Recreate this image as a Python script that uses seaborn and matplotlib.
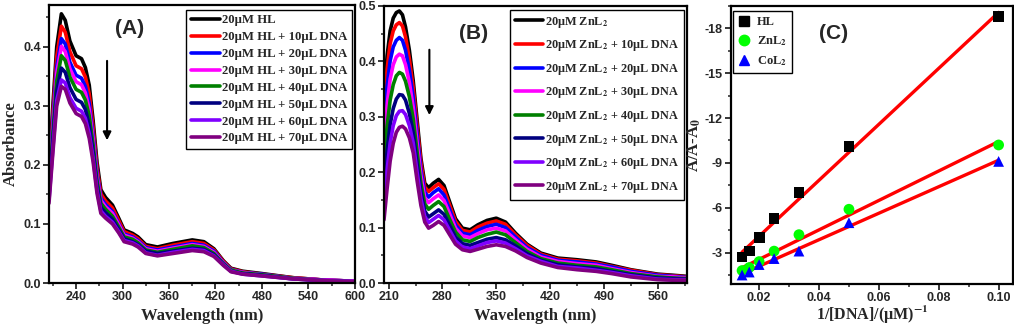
import numpy as np
import pandas as pd
import matplotlib
matplotlib.use("Agg")
import matplotlib.pyplot as plt
from matplotlib.ticker import MultipleLocator, FormatStrFormatter
from matplotlib.lines import Line2D
import seaborn as sns

# ---------------- Panel A data (HL + DNA) ----------------
wl_A = [205, 210, 215, 221, 226, 232, 240, 247, 252, 257, 262, 267, 272, 278, 287, 295,
        302, 313, 320, 330, 345, 365, 390, 405, 418, 430, 440, 455, 480, 520, 560, 600]
A_00 = [0.186, 0.300, 0.400, 0.456, 0.445, 0.410, 0.385, 0.380, 0.365, 0.335, 0.275, 0.205, 0.158, 0.145, 0.132, 0.110,
        0.090, 0.084, 0.078, 0.065, 0.061, 0.067, 0.073, 0.070, 0.058, 0.038, 0.025, 0.020, 0.016, 0.009, 0.005, 0.003]
A_10 = [0.177, 0.286, 0.383, 0.435, 0.425, 0.392, 0.368, 0.363, 0.349, 0.320, 0.263, 0.196, 0.151, 0.139, 0.127, 0.106,
        0.087, 0.081, 0.075, 0.062, 0.058, 0.064, 0.070, 0.067, 0.056, 0.037, 0.024, 0.019, 0.015, 0.009, 0.005, 0.003]
A_20 = [0.169, 0.273, 0.366, 0.414, 0.405, 0.374, 0.352, 0.347, 0.333, 0.304, 0.251, 0.187, 0.144, 0.133, 0.121, 0.101,
        0.083, 0.078, 0.072, 0.060, 0.056, 0.061, 0.067, 0.064, 0.054, 0.035, 0.023, 0.018, 0.015, 0.008, 0.005, 0.003]
A_30 = [0.163, 0.264, 0.355, 0.401, 0.392, 0.363, 0.341, 0.336, 0.322, 0.294, 0.243, 0.181, 0.140, 0.129, 0.118, 0.099,
        0.081, 0.076, 0.070, 0.058, 0.054, 0.059, 0.065, 0.062, 0.052, 0.034, 0.022, 0.018, 0.014, 0.008, 0.005, 0.003]
A_40 = [0.156, 0.254, 0.342, 0.385, 0.377, 0.349, 0.328, 0.323, 0.310, 0.283, 0.234, 0.174, 0.135, 0.125, 0.113, 0.095,
        0.078, 0.074, 0.068, 0.056, 0.052, 0.057, 0.063, 0.060, 0.050, 0.033, 0.022, 0.017, 0.014, 0.008, 0.004, 0.002]
A_50 = [0.148, 0.240, 0.325, 0.364, 0.357, 0.331, 0.311, 0.306, 0.294, 0.267, 0.222, 0.165, 0.128, 0.119, 0.108, 0.091,
        0.075, 0.070, 0.065, 0.054, 0.050, 0.054, 0.059, 0.057, 0.048, 0.032, 0.020, 0.016, 0.013, 0.007, 0.004, 0.002]
A_60 = [0.140, 0.227, 0.309, 0.344, 0.339, 0.314, 0.296, 0.291, 0.279, 0.253, 0.211, 0.157, 0.122, 0.113, 0.103, 0.087,
        0.072, 0.068, 0.063, 0.051, 0.047, 0.052, 0.057, 0.055, 0.046, 0.031, 0.020, 0.015, 0.012, 0.007, 0.004, 0.002]
A_70 = [0.135, 0.220, 0.300, 0.333, 0.328, 0.305, 0.287, 0.282, 0.270, 0.245, 0.205, 0.152, 0.118, 0.110, 0.100, 0.085,
        0.070, 0.066, 0.061, 0.050, 0.046, 0.050, 0.055, 0.053, 0.045, 0.030, 0.019, 0.015, 0.012, 0.007, 0.004, 0.002]

# ---------------- Panel B data (ZnL2 + DNA) ----------------
wl_B = [204, 208, 212, 216, 220, 224, 228, 232, 237, 242, 247, 252, 257, 262, 268, 275, 282, 289,
        297, 306, 316, 326, 338, 350, 362, 375, 390, 408, 430, 455, 480, 500, 525, 560, 580, 598]
B_00 = [0.330, 0.410, 0.455, 0.478, 0.488, 0.491, 0.484, 0.462, 0.420, 0.365, 0.295, 0.225, 0.180, 0.172, 0.180, 0.187, 0.176, 0.148,
        0.116, 0.099, 0.096, 0.105, 0.113, 0.117, 0.110, 0.090, 0.070, 0.054, 0.045, 0.042, 0.038, 0.032, 0.024, 0.016, 0.014, 0.012]
B_10 = [0.308, 0.386, 0.432, 0.455, 0.466, 0.470, 0.464, 0.444, 0.404, 0.352, 0.284, 0.217, 0.173, 0.165, 0.172, 0.179, 0.169, 0.142,
        0.111, 0.095, 0.092, 0.101, 0.108, 0.112, 0.106, 0.087, 0.068, 0.052, 0.043, 0.040, 0.036, 0.030, 0.023, 0.015, 0.013, 0.011]
B_20 = [0.280, 0.355, 0.401, 0.426, 0.438, 0.443, 0.438, 0.420, 0.384, 0.335, 0.270, 0.205, 0.164, 0.155, 0.163, 0.170, 0.159, 0.134,
        0.105, 0.090, 0.087, 0.095, 0.102, 0.106, 0.100, 0.083, 0.064, 0.050, 0.041, 0.038, 0.034, 0.029, 0.021, 0.014, 0.012, 0.010]
B_30 = [0.250, 0.321, 0.368, 0.394, 0.408, 0.413, 0.410, 0.394, 0.362, 0.317, 0.254, 0.194, 0.154, 0.145, 0.152, 0.159, 0.149, 0.126,
        0.099, 0.085, 0.082, 0.089, 0.096, 0.099, 0.094, 0.078, 0.061, 0.047, 0.039, 0.035, 0.032, 0.026, 0.019, 0.012, 0.011, 0.009]
B_40 = [0.216, 0.283, 0.330, 0.358, 0.374, 0.380, 0.377, 0.364, 0.336, 0.296, 0.237, 0.180, 0.143, 0.133, 0.140, 0.147, 0.138, 0.116,
        0.092, 0.078, 0.075, 0.082, 0.088, 0.092, 0.087, 0.073, 0.057, 0.044, 0.036, 0.032, 0.029, 0.024, 0.017, 0.011, 0.009, 0.008]
B_50 = [0.174, 0.237, 0.286, 0.315, 0.332, 0.340, 0.339, 0.330, 0.306, 0.271, 0.216, 0.164, 0.130, 0.119, 0.125, 0.132, 0.124, 0.105,
        0.083, 0.071, 0.068, 0.073, 0.079, 0.082, 0.078, 0.067, 0.053, 0.041, 0.033, 0.029, 0.026, 0.021, 0.015, 0.009, 0.008, 0.007]
B_60 = [0.144, 0.204, 0.253, 0.284, 0.302, 0.310, 0.311, 0.304, 0.284, 0.253, 0.200, 0.152, 0.120, 0.109, 0.115, 0.122, 0.114, 0.096,
        0.076, 0.065, 0.062, 0.067, 0.073, 0.076, 0.072, 0.062, 0.049, 0.039, 0.030, 0.027, 0.023, 0.019, 0.013, 0.007, 0.006, 0.006]
B_70 = [0.114, 0.170, 0.220, 0.252, 0.272, 0.281, 0.283, 0.278, 0.262, 0.235, 0.185, 0.140, 0.110, 0.099, 0.104, 0.111, 0.104, 0.088,
        0.070, 0.060, 0.057, 0.061, 0.066, 0.069, 0.066, 0.058, 0.046, 0.036, 0.028, 0.024, 0.021, 0.017, 0.011, 0.006, 0.005, 0.005]

# ---------------- Panel C data ----------------
inv_dna = [0.0143, 0.0167, 0.0200, 0.0250, 0.0333, 0.0500, 0.1000]
c_HL = [-2.7, -3.1, -4.0, -5.3, -7.0, -10.1, -18.8]
c_ZnL2 = [-1.8, -2.0, -2.4, -3.1, -4.2, -5.9, -10.2]
c_CoL2 = [-1.5, -1.7, -2.2, -2.6, -3.1, -5.0, -9.1]

colors = ["#000000", "#FF0000", "#0000FF", "#FF00FF", "#008000", "#000080", "#8000FF", "#800080"]
dna_vol = ["", " + 10µL DNA", " + 20µL DNA", " + 30µL DNA", " + 40µL DNA", " + 50µL DNA", " + 60µL DNA", " + 70µL DNA"]
labels_A = ["20µM HL" + s for s in dna_vol]
labels_B = ["20µM ZnL$_2$" + s for s in dna_vol]

sns.set_style("ticks")
plt.rcParams["font.family"] = ["Liberation Sans", "DejaVu Sans"]
plt.rcParams["font.weight"] = "bold"
plt.rcParams["axes.unicode_minus"] = False
plt.rcParams["mathtext.fontset"] = "stix"

SERIF = ["Liberation Serif", "DejaVu Serif"]

fig = plt.figure(figsize=(10.14, 3.31), dpi=100)
axA = fig.add_axes([0.0483, 0.145, 0.3017, 0.840])
axB = fig.add_axes([0.3787, 0.145, 0.2988, 0.837])
axC = fig.add_axes([0.7209, 0.142, 0.2781, 0.840])


def long_df(wl, series, labels):
    frames = []
    for s, lab in zip(series, labels):
        frames.append(pd.DataFrame({"wl": wl, "abs": s, "label": lab}))
    return pd.concat(frames, ignore_index=True)


def style_axes(ax):
    for sp in ax.spines.values():
        sp.set_linewidth(1.6)
        sp.set_color("black")
    ax.tick_params(which="major", direction="out", length=4, width=1.3, labelsize=9, pad=2)
    ax.tick_params(which="minor", direction="out", length=2.5, width=1.1)
    for t in ax.get_xticklabels() + ax.get_yticklabels():
        t.set_fontweight("bold")


# ---- Panel A ----
dfA = long_df(wl_A, [A_00, A_10, A_20, A_30, A_40, A_50, A_60, A_70], labels_A)
sns.lineplot(data=dfA, x="wl", y="abs", hue="label", palette=colors, hue_order=labels_A,
             sort=False, lw=2.6, legend=False, ax=axA)
axA.set_xlim(205, 600)
axA.set_ylim(0, 0.471)
axA.xaxis.set_major_locator(MultipleLocator(60))
axA.xaxis.set_minor_locator(MultipleLocator(30))
axA.yaxis.set_major_locator(MultipleLocator(0.1))
axA.yaxis.set_minor_locator(MultipleLocator(0.05))
axA.yaxis.set_major_formatter(FormatStrFormatter("%.1f"))
axA.set_xlabel("Wavelength (nm)", fontsize=12, fontweight="bold", family=SERIF, labelpad=3)
axA.set_ylabel("Absorbance", fontsize=12, fontweight="bold", family=SERIF, labelpad=3)
style_axes(axA)
handlesA = [Line2D([], [], color=c, lw=2.6) for c in colors]
legA = axA.legend(handlesA, labels_A, loc="upper right", bbox_to_anchor=(0.99, 0.982),
                  borderaxespad=0, prop={"family": SERIF, "weight": "bold", "size": 9.2},
                  labelspacing=0.38, handlelength=2.3, handletextpad=0.15, borderpad=0.35,
                  fancybox=False, framealpha=1, edgecolor="black")
legA.get_frame().set_linewidth(1.0)
axA.annotate("", xy=(280, 0.237), xytext=(280, 0.381),
             arrowprops=dict(arrowstyle="-|>", color="black", lw=1.5, mutation_scale=12))
axA.text(0.265, 0.915, "(A)", transform=axA.transAxes, fontsize=15, fontweight="bold",
         ha="center", va="center")

# ---- Panel B ----
dfB = long_df(wl_B, [B_00, B_10, B_20, B_30, B_40, B_50, B_60, B_70], labels_B)
sns.lineplot(data=dfB, x="wl", y="abs", hue="label", palette=colors, hue_order=labels_B,
             sort=False, lw=2.6, legend=False, ax=axB)
axB.set_xlim(204, 598)
axB.set_ylim(0, 0.5)
axB.xaxis.set_major_locator(MultipleLocator(70))
axB.xaxis.set_minor_locator(MultipleLocator(35))
axB.yaxis.set_major_locator(MultipleLocator(0.1))
axB.yaxis.set_minor_locator(MultipleLocator(0.05))
axB.yaxis.set_major_formatter(FormatStrFormatter("%.1f"))
axB.set_xlabel("Wavelength (nm)", fontsize=12, fontweight="bold", family=SERIF, labelpad=3)
axB.set_ylabel("")
style_axes(axB)
handlesB = [Line2D([], [], color=c, lw=2.6) for c in colors]
legB = axB.legend(handlesB, labels_B, loc="upper right", bbox_to_anchor=(0.99, 0.986),
                  borderaxespad=0, prop={"family": SERIF, "weight": "bold", "size": 8.8},
                  labelspacing=0.7, handlelength=2.3, handletextpad=0.15, borderpad=0.4,
                  fancybox=False, framealpha=1, edgecolor="black")
legB.get_frame().set_linewidth(1.0)
axB.annotate("", xy=(263, 0.298), xytext=(263, 0.426),
             arrowprops=dict(arrowstyle="-|>", color="black", lw=1.5, mutation_scale=12))
axB.text(0.295, 0.9, "(B)", transform=axB.transAxes, fontsize=15, fontweight="bold",
         ha="center", va="center")

# ---- Panel C ----
dfC = pd.DataFrame({
    "x": inv_dna * 3,
    "y": c_HL + c_ZnL2 + c_CoL2,
    "cmpd": ["HL"] * 7 + ["ZnL2"] * 7 + ["CoL2"] * 7,
})
for name, y in [("HL", c_HL), ("ZnL2", c_ZnL2), ("CoL2", c_CoL2)]:
    sns.regplot(x=np.array(inv_dna), y=np.array(y), ci=None, scatter=False, truncate=True,
                line_kws={"color": "#FF0000", "lw": 2.4}, ax=axC)
sns.scatterplot(data=dfC, x="x", y="y", hue="cmpd", style="cmpd",
                hue_order=["HL", "ZnL2", "CoL2"], style_order=["HL", "ZnL2", "CoL2"],
                palette=["#000000", "#00FF00", "#0000FF"], markers=["s", "o", "^"],
                s=60, edgecolor="none", legend=False, ax=axC, zorder=3)
axC.set_xlim(0.0106, 0.1048)
axC.set_ylim(-0.9, -19.5)
axC.xaxis.set_major_locator(MultipleLocator(0.02))
axC.xaxis.set_minor_locator(MultipleLocator(0.01))
axC.xaxis.set_major_formatter(FormatStrFormatter("%.2f"))
axC.yaxis.set_major_locator(MultipleLocator(3))
axC.yaxis.set_minor_locator(MultipleLocator(1.5))
axC.yaxis.set_major_formatter(FormatStrFormatter("%d"))
axC.set_xlabel("1/[DNA]/(µM)$^{\\mathbf{-1}}$", fontsize=11.5, fontweight="bold", family=SERIF, labelpad=0)
axC.set_ylabel("A/A-A$_{\\mathbf{0}}$", fontsize=12, fontweight="bold", family=SERIF, labelpad=1)
style_axes(axC)
handlesC = [Line2D([], [], ls="none", marker=m, color=c, markersize=7.5)
            for m, c in zip(["s", "o", "^"], ["#000000", "#00FF00", "#0000FF"])]
legC = axC.legend(handlesC, ["HL", "ZnL$_2$", "CoL$_2$"], loc="upper left",
                  bbox_to_anchor=(0.007, 0.982), borderaxespad=0,
                  prop={"family": SERIF, "weight": "bold", "size": 9.0},
                  labelspacing=0.5, handlelength=1.0, handletextpad=0.5, borderpad=0.4,
                  fancybox=False, framealpha=1, edgecolor="black")
legC.get_frame().set_linewidth(1.0)
axC.text(0.365, 0.9, "(C)", transform=axC.transAxes, fontsize=15, fontweight="bold",
         ha="center", va="center")

fig.savefig("out.png", dpi=100)
